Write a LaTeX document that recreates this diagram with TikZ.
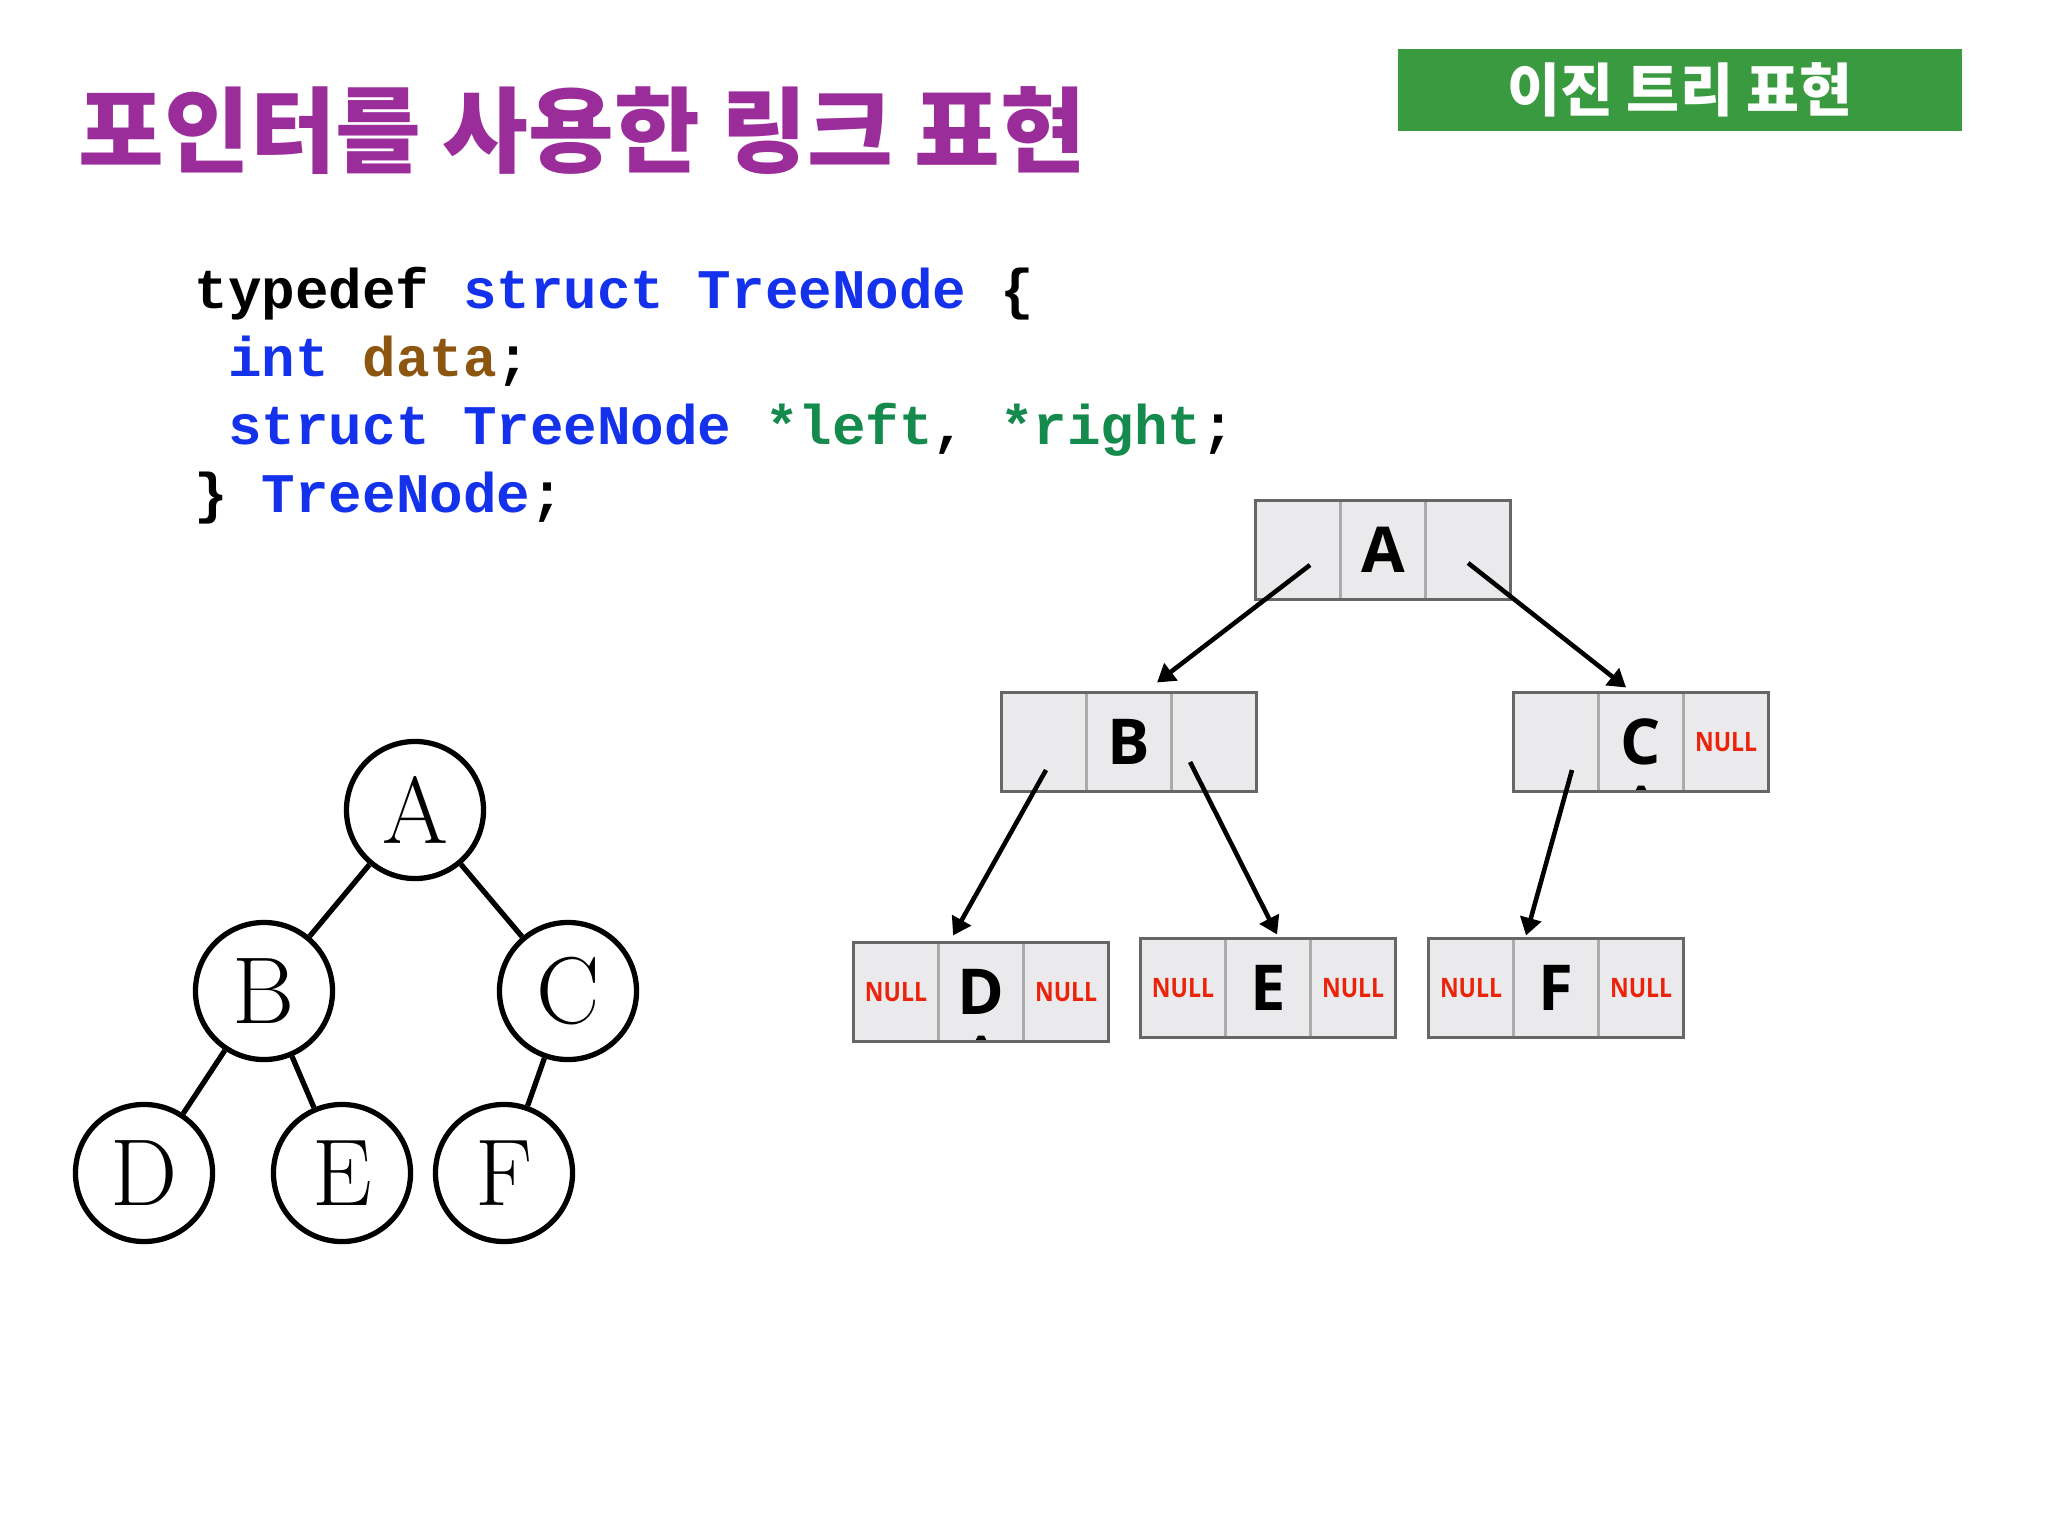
\documentclass[tikz,border=0pt]{standalone}
\usepackage{fontspec}
\newfontfamily\krfont{Noto Sans CJK KR}
\newfontfamily\codefont{Liberation Mono}
\newfontfamily\boxfont{Open Sans}
\newfontfamily\nulltextfont{Open Sans}[FakeStretch=0.86]
\usetikzlibrary{arrows.meta,positioning}
\definecolor{titlepurple}{RGB}{155,45,155}
\definecolor{tabgreen}{RGB}{58,154,64}
\definecolor{kwblue}{RGB}{20,50,235}
\definecolor{varbrown}{RGB}{140,85,16}
\definecolor{ptrgreen}{RGB}{20,138,76}
\definecolor{cellgray}{RGB}{234,234,236}
\definecolor{nullred}{RGB}{235,35,10}

\begin{document}
\begin{tikzpicture}[x=0.01cm,y=-0.01cm,>=Stealth,
  circ/.style={draw,circle,line width=1.5pt,minimum size=1.37cm,inner sep=0pt,font=\fontsize{27}{30}\selectfont},
  cell/.style={draw=black!33,fill=cellgray,line width=0.8pt,minimum width=0.85cm,minimum height=0.99cm,inner sep=0pt,outer sep=0pt,font=\boxfont\bfseries\fontsize{18}{20}\selectfont},
  nul/.style={cell,font=\nulltextfont\bfseries\fontsize{7.6}{9}\selectfont,text=nullred},
  boxframe/.style={draw=black!60,line width=1pt},
  ptr/.style={-{Triangle[length=5pt,width=6pt]},line width=1.3pt},
  code/.style={anchor=base west,inner sep=0pt,font=\codefont\bfseries\fontsize{15.9}{19}\selectfont}]
\fill[white] (0,0) rectangle (2048,1536);
\useasboundingbox (0,0) rectangle (2048,1536);
% headings
\node[anchor=west,inner sep=0pt,text=titlepurple,font=\krfont\bfseries\fontsize{26.5}{31}\selectfont] (title) at (78,131) {포인터를 사용한 링크 표현};
\node[fill=tabgreen,minimum width=5.63cm,minimum height=0.81cm,inner sep=0pt,text=white,font=\krfont\bfseries\fontsize{16.4}{19}\selectfont] (tab) at (1680,90) {이진 트리 표현};
% struct code
\node[code] (line1) at (194,308) {typedef \textcolor{kwblue}{struct TreeNode} \{};
\node[code] (line2) at (194,376) {\hphantom{t}\textcolor{kwblue}{int} \textcolor{varbrown}{data};};
\node[code] (line3) at (194,444) {\hphantom{t}\textcolor{kwblue}{struct TreeNode} \textcolor{ptrgreen}{*left}, \textcolor{ptrgreen}{*right};};
\node[code] (line4) at (194,512) {\} \textcolor{kwblue}{TreeNode};};
% tree drawn with circles
\node[circ] (tA) at (415,810) {A};
\node[circ] (tB) at (264,991) {B};
\node[circ] (tC) at (568,991) {C};
\node[circ] (tD) at (144,1173) {D};
\node[circ] (tE) at (342,1173) {E};
\node[circ] (tF) at (504,1173) {F};
\draw[line width=1.5pt] (tA)--(tB) (tA)--(tC) (tB)--(tD) (tB)--(tE) (tC)--(tF);
% linked nodes
\node[cell] (Al) at (1298,550) {};
\node[cell,right=0pt of Al] (A) {A};
\node[cell,right=0pt of A] (Ar) {};
\node[cell] (Bl) at (1044,742) {};
\node[cell,right=0pt of Bl] (B) {B};
\node[cell,right=0pt of B] (Br) {};
\node[cell] (Cl) at (1556,742) {};
\node[cell,right=0pt of Cl] (C) {C};
\node[nul,right=0pt of C] (Cr) {NULL};
\node[nul] (Dl) at (896,992) {NULL};
\node[cell,right=0pt of Dl] (D) {D};
\node[nul,right=0pt of D] (Dr) {NULL};
\node[nul] (El) at (1183,988) {NULL};
\node[cell,right=0pt of El] (E) {E};
\node[nul,right=0pt of E] (Er) {NULL};
\node[nul] (Fl) at (1471,988) {NULL};
\node[cell,right=0pt of Fl] (F) {F};
\node[nul,right=0pt of F] (Fr) {NULL};
\fill ([shift={(-6,0)}]C.south) -- ++(3,-6) -- ++(6,0) -- ++(3,6) -- cycle;
\fill ([shift={(-6,0)}]D.south) -- ++(3,-6) -- ++(6,0) -- ++(3,6) -- cycle;
\draw[boxframe] (Al.north west) rectangle (Ar.south east);
\draw[boxframe] (Bl.north west) rectangle (Br.south east);
\draw[boxframe] (Cl.north west) rectangle (Cr.south east);
\draw[boxframe] (Dl.north west) rectangle (Dr.south east);
\draw[boxframe] (El.north west) rectangle (Er.south east);
\draw[boxframe] (Fl.north west) rectangle (Fr.south east);
% pointers
\draw[ptr] ([shift={(12,15)}]Al.center) -- ([shift={(28,-10)}]B.north);
\draw[ptr] ([shift={(0,13)}]Ar.center) -- ([shift={(-15,-5)}]C.north);
\draw[ptr] ([shift={(2,28)}]Bl.center) -- ([shift={(-28,-7)}]D.north);
\draw[ptr] ([shift={(-24,20)}]Br.center) -- ([shift={(9,-4)}]E.north);
\draw[ptr] ([shift={(16,28)}]Cl.center) -- ([shift={(-30,-3)}]F.north);
\end{tikzpicture}
\end{document}
